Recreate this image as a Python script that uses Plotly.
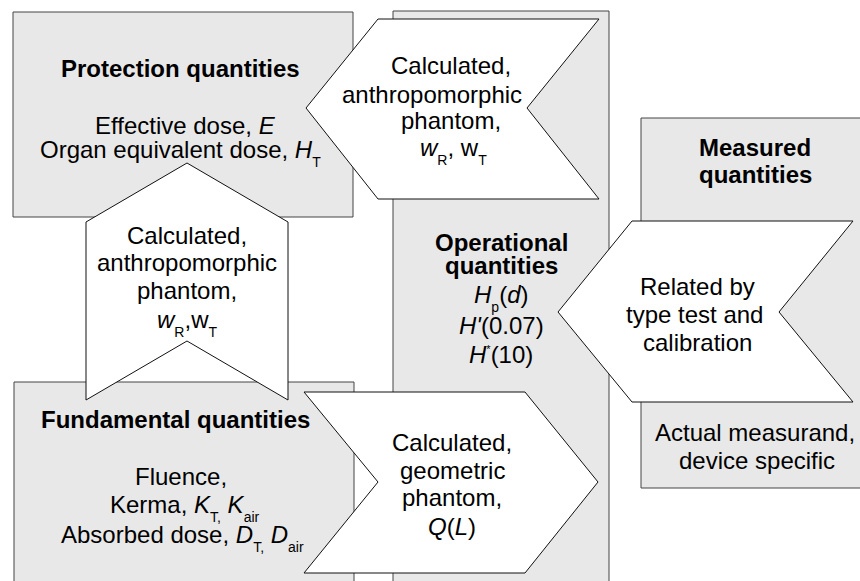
import plotly.graph_objects as go

W, H = 860, 581
FS = 24
ASC = 0.905
FONT = "Liberation Sans"
SUB_FS = 14


def sub(t):
    # small, deeply lowered subscript as in the reference
    return "<sub><sub><span style='font-size:%dpx'>%s</span></sub></sub>" % (SUB_FS, t)


STAR = "<sup><span style='font-size:11px'>*</span></sup>"

# ---- box geometry (x0, y0, x1, y1) in pixel space ----
box_names = ["Protection", "Operational", "Measured", "Fundamental"]
box_x0 = [13, 393, 641, 14]
box_y0 = [12, 11, 118, 382]
box_x1 = [353, 609, 870, 354]
box_y1 = [217, 590, 488, 590]

# ---- arrow polygons ----
arrow_names = ["top", "up", "related", "geometric"]
arrow_x = [
    [306, 378, 599, 527, 599, 378],
    [187, 288, 288, 187, 86, 86],
    [558, 632, 853, 779, 853, 632],
    [304, 525, 598, 525, 304, 378],
]
arrow_y = [
    [108, 19, 19, 108, 199, 199],
    [163, 222, 400, 341, 400, 222],
    [312, 221, 221, 312, 402, 402],
    [392, 392, 482, 573, 573, 482],
]

# ---- text lines: label, centre x, baseline y ----
text_labels = [
    "<b>Protection quantities</b>",
    "Effective dose, <i>E</i>",
    "Organ equivalent dose, <i>H</i>" + sub("T"),
    "Calculated,", "anthropomorphic", "phantom,",
    "<i>w</i>" + sub("R") + ", w" + sub("T"),
    "Calculated,", "anthropomorphic", "phantom,",
    "<i>w</i>" + sub("R") + ",w" + sub("T"),
    "<b>Operational</b>", "<b>quantities</b>",
    "<i>H</i>" + sub("p") + "(<i>d</i>)", "<i>H'</i>(0.07)", "<i>H</i>" + STAR + "(10)",
    "Related by", "type test and", "calibration",
    "<b>Measured</b>", "<b>quantities</b>",
    "Actual measurand,", "device specific",
    "<b>Fundamental quantities</b>", "Fluence,",
    "Kerma, <i>K</i>" + sub("T,") + " <i>K</i>" + sub("air"),
    "Absorbed dose, <i>D</i>" + sub("T,") + " <i>D</i>" + sub("air"),
    "Calculated,", "geometric", "phantom,", "<i>Q</i>(<i>L</i>)",
]
text_x = [
    180, 185, 180,
    451, 432, 451, 453,
    187, 187, 187, 187,
    501, 501, 501, 501, 501,
    697, 694, 697,
    755, 755,
    755, 757,
    175, 181, 185, 182,
    452, 452, 452, 452,
]
text_base = [
    76, 133, 157,
    73, 102, 128, 155,
    243, 270, 298, 327,
    250, 273, 302, 333, 362,
    294, 322, 350,
    155, 182,
    440, 468,
    427, 484, 512, 542,
    450, 478, 505, 534,
]

fig = go.Figure()

shapes = []
for x0, y0, x1, y1 in zip(box_x0, box_y0, box_x1, box_y1):
    shapes.append(dict(type="rect", xref="x", yref="y", x0=x0, y0=y0, x1=x1, y1=y1,
                       fillcolor="#e8e8e8", line=dict(color="#454545", width=1)))
for xs, ys in zip(arrow_x, arrow_y):
    path = "M " + " L ".join(f"{x},{y}" for x, y in zip(xs, ys)) + " Z"
    shapes.append(dict(type="path", xref="x", yref="y", path=path,
                       fillcolor="white", line=dict(color="#111111", width=1)))

annotations = []
for lab, x, b in zip(text_labels, text_x, text_base):
    top = b - ASC * FS
    annotations.append(dict(x=x, y=top, xref="x", yref="y", text=lab, showarrow=False,
                            xanchor="center", yanchor="top", borderpad=0,
                            font=dict(family=FONT, size=FS, color="black")))

fig.update_layout(
    width=W, height=H, margin=dict(l=0, r=0, t=0, b=0),
    paper_bgcolor="white", plot_bgcolor="white",
    xaxis=dict(range=[0, W], visible=False, fixedrange=True),
    yaxis=dict(range=[H, 0], visible=False, fixedrange=True),
    shapes=shapes, annotations=annotations, showlegend=False,
)
fig.write_html(
    "out.html",
    config={"displayModeBar": False, "staticPlot": True},
    post_script="document.body.style.margin='0';document.body.style.overflow='hidden';",
)
